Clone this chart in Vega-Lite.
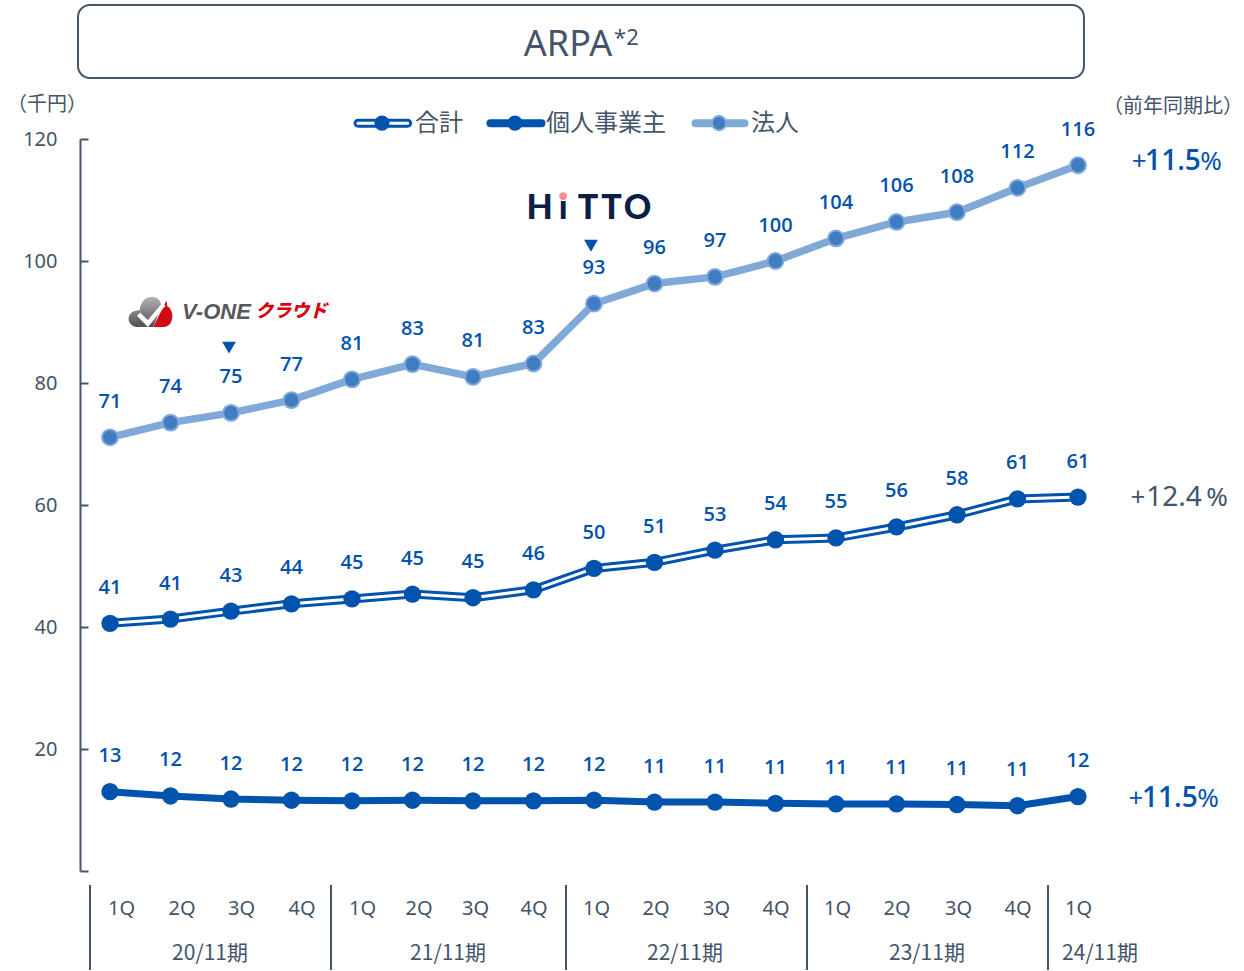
{
  "$schema": "https://vega.github.io/schema/vega-lite/v6.json",
  "width": 1020,
  "height": 732,
  "autosize": "none",
  "padding": {"left": 80, "top": 139, "right": 144, "bottom": 100},
  "background": "white",
  "config": {
    "view": {"stroke": null},
    "font": "Noto Sans CJK JP",
    "text": {"font": "Noto Sans CJK JP"}
  },
  "datasets": {
    "arpa": [
      {"t":0,"quarter":"1Q","fy":"20/11期","segment":"合計","v":40.6},
      {"t":1,"quarter":"2Q","fy":"20/11期","segment":"合計","v":41.3},
      {"t":2,"quarter":"3Q","fy":"20/11期","segment":"合計","v":42.6},
      {"t":3,"quarter":"4Q","fy":"20/11期","segment":"合計","v":43.8},
      {"t":4,"quarter":"1Q","fy":"21/11期","segment":"合計","v":44.6},
      {"t":5,"quarter":"2Q","fy":"21/11期","segment":"合計","v":45.4},
      {"t":6,"quarter":"3Q","fy":"21/11期","segment":"合計","v":44.8},
      {"t":7,"quarter":"4Q","fy":"21/11期","segment":"合計","v":46.1},
      {"t":8,"quarter":"1Q","fy":"22/11期","segment":"合計","v":49.6},
      {"t":9,"quarter":"2Q","fy":"22/11期","segment":"合計","v":50.6},
      {"t":10,"quarter":"3Q","fy":"22/11期","segment":"合計","v":52.6},
      {"t":11,"quarter":"4Q","fy":"22/11期","segment":"合計","v":54.3},
      {"t":12,"quarter":"1Q","fy":"23/11期","segment":"合計","v":54.6},
      {"t":13,"quarter":"2Q","fy":"23/11期","segment":"合計","v":56.4},
      {"t":14,"quarter":"3Q","fy":"23/11期","segment":"合計","v":58.4},
      {"t":15,"quarter":"4Q","fy":"23/11期","segment":"合計","v":61.0},
      {"t":16,"quarter":"1Q","fy":"24/11期","segment":"合計","v":61.3},
      {"t":0,"quarter":"1Q","fy":"20/11期","segment":"個人事業主","v":13.0},
      {"t":1,"quarter":"2Q","fy":"20/11期","segment":"個人事業主","v":12.3},
      {"t":2,"quarter":"3Q","fy":"20/11期","segment":"個人事業主","v":11.8},
      {"t":3,"quarter":"4Q","fy":"20/11期","segment":"個人事業主","v":11.6},
      {"t":4,"quarter":"1Q","fy":"21/11期","segment":"個人事業主","v":11.5},
      {"t":5,"quarter":"2Q","fy":"21/11期","segment":"個人事業主","v":11.6},
      {"t":6,"quarter":"3Q","fy":"21/11期","segment":"個人事業主","v":11.5},
      {"t":7,"quarter":"4Q","fy":"21/11期","segment":"個人事業主","v":11.5},
      {"t":8,"quarter":"1Q","fy":"22/11期","segment":"個人事業主","v":11.6},
      {"t":9,"quarter":"2Q","fy":"22/11期","segment":"個人事業主","v":11.3},
      {"t":10,"quarter":"3Q","fy":"22/11期","segment":"個人事業主","v":11.3},
      {"t":11,"quarter":"4Q","fy":"22/11期","segment":"個人事業主","v":11.1},
      {"t":12,"quarter":"1Q","fy":"23/11期","segment":"個人事業主","v":11.0},
      {"t":13,"quarter":"2Q","fy":"23/11期","segment":"個人事業主","v":11.0},
      {"t":14,"quarter":"3Q","fy":"23/11期","segment":"個人事業主","v":10.9},
      {"t":15,"quarter":"4Q","fy":"23/11期","segment":"個人事業主","v":10.7},
      {"t":16,"quarter":"1Q","fy":"24/11期","segment":"個人事業主","v":12.2},
      {"t":0,"quarter":"1Q","fy":"20/11期","segment":"法人","v":71.1},
      {"t":1,"quarter":"2Q","fy":"20/11期","segment":"法人","v":73.5},
      {"t":2,"quarter":"3Q","fy":"20/11期","segment":"法人","v":75.1},
      {"t":3,"quarter":"4Q","fy":"20/11期","segment":"法人","v":77.2},
      {"t":4,"quarter":"1Q","fy":"21/11期","segment":"法人","v":80.6},
      {"t":5,"quarter":"2Q","fy":"21/11期","segment":"法人","v":83.1},
      {"t":6,"quarter":"3Q","fy":"21/11期","segment":"法人","v":81.0},
      {"t":7,"quarter":"4Q","fy":"21/11期","segment":"法人","v":83.2},
      {"t":8,"quarter":"1Q","fy":"22/11期","segment":"法人","v":93.0},
      {"t":9,"quarter":"2Q","fy":"22/11期","segment":"法人","v":96.3},
      {"t":10,"quarter":"3Q","fy":"22/11期","segment":"法人","v":97.4},
      {"t":11,"quarter":"4Q","fy":"22/11期","segment":"法人","v":100.0},
      {"t":12,"quarter":"1Q","fy":"23/11期","segment":"法人","v":103.7},
      {"t":13,"quarter":"2Q","fy":"23/11期","segment":"法人","v":106.4},
      {"t":14,"quarter":"3Q","fy":"23/11期","segment":"法人","v":108.0},
      {"t":15,"quarter":"4Q","fy":"23/11期","segment":"法人","v":112.0},
      {"t":16,"quarter":"1Q","fy":"24/11期","segment":"法人","v":115.7}
    ],
    "legendKeys": [
      {"segment":"合計","t":4.1,"t2":4.92,"v":122.6},
      {"segment":"個人事業主","t":6.289,"t2":7.132,"v":122.6},
      {"segment":"法人","t":9.678,"t2":10.487,"v":122.6}
    ],
    "legendDots": [
      {"segment":"合計","t":4.496,"v":122.6},
      {"segment":"個人事業主","t":6.694,"v":122.6},
      {"segment":"法人","t":10.066,"v":122.6}
    ],
    "legendNames": [
      {"segment":"合計","t":5.04,"v":122.4},
      {"segment":"個人事業主","t":7.205,"v":122.4},
      {"segment":"法人","t":10.595,"v":122.4}
    ],
    "fiscalYears": [
      {"fy":"20/11期","t":1.653,"v":-13.6},
      {"fy":"21/11期","t":5.587,"v":-13.6},
      {"fy":"22/11期","t":9.504,"v":-13.6},
      {"fy":"23/11期","t":13.504,"v":-13.6},
      {"fy":"24/11期","t":16.364,"v":-13.6}
    ],
    "fiscalDividers": [
      {"t":-0.331,"v":-2.295,"v2":-16.23},
      {"t":3.653,"v":-2.295,"v2":-16.23},
      {"t":7.537,"v":-2.295,"v2":-16.23},
      {"t":11.521,"v":-2.295,"v2":-16.23},
      {"t":15.504,"v":-2.295,"v2":-16.23}
    ],
    "growth": [
      {"segment":"法人","part":"plus","text":"+","t":17.01,"v":116.2},
      {"segment":"法人","part":"number","text":"11.5","t":17.57,"v":116.2},
      {"segment":"法人","part":"percent","text":"%","t":18.2,"v":116.2},
      {"segment":"合計","part":"plus","text":"+","t":16.99,"v":61.1},
      {"segment":"合計","part":"number","text":"12.4","t":17.587,"v":61.1},
      {"segment":"合計","part":"percent","text":"%","t":18.3,"v":61.1},
      {"segment":"個人事業主","part":"plus","text":"+","t":16.96,"v":11.8},
      {"segment":"個人事業主","part":"number","text":"11.5","t":17.52,"v":11.8},
      {"segment":"個人事業主","part":"percent","text":"%","t":18.15,"v":11.8}
    ],
    "launches": [
      {"product":"V-ONEクラウド","t":1.967,"v":85.8},
      {"product":"HiTTO","t":7.95,"v":102.5}
    ],
    "hittoLetters": [
      {"letter":"H","t":7.1,"v":108.6},
      {"letter":"ı","t":7.49,"v":108.6},
      {"letter":"T","t":7.9,"v":108.6},
      {"letter":"T","t":8.29,"v":108.6},
      {"letter":"O","t":8.72,"v":108.6}
    ]
  },
  "encoding": {
    "x": {
      "field": "t",
      "type": "quantitative",
      "title": null,
      "scale": {"domain": [-0.496, 16.364], "nice": false, "zero": false},
      "axis": {
        "values": [0,1,2,3,4,5,6,7,8,9,10,11,12,13,14,15,16],
        "domain": false,
        "ticks": false,
        "grid": false,
        "labelFontSize": 20,
        "labelColor": "#44546a",
        "labelPadding": 27,
        "labelFont": "Noto Sans",
        "labelExpr": "['1Q','2Q','3Q','4Q','1Q','2Q','3Q','4Q','1Q','2Q','3Q','4Q','1Q','2Q','3Q','4Q','1Q'][datum.value]",
        "labelOverlap": false,
        "labelOffset": {"expr": "[11,11,10,10,10,6,2,0,2,1,1,0,1,0,1,0,0][datum.value]"}
      }
    },
    "y": {
      "field": "v",
      "type": "quantitative",
      "title": null,
      "scale": {"domain": [0, 120], "nice": false, "zero": false},
      "axis": {
        "values": [0,20,40,60,80,100,120],
        "grid": false,
        "domainColor": "#44546a",
        "domainWidth": 2,
        "tickColor": "#44546a",
        "tickWidth": 2,
        "tickSize": -8,
        "labelFontSize": 20,
        "labelColor": "#44546a",
        "labelPadding": 31,
        "labelFont": "Noto Sans",
        "labelExpr": "datum.value === 0 ? '' : datum.label"
      }
    }
  },
  "layer": [
    {
      "data": {"values": [{"t":-0.529,"t2":16.099,"v":141.97,"v2":130}]},
      "mark": {"type":"rect","fill":"white","stroke":"#44546a","strokeWidth":2,"cornerRadius":12,"clip":false},
      "encoding": {"x2":{"field":"t2"},"y2":{"field":"v2"}}
    },
    {
      "data": {"values": [{"text":"ARPA","t":7.57,"v":135.4}]},
      "mark": {"type":"text","fontSize":36,"font":"Noto Sans","color":"#44546a","align":"center","baseline":"middle"},
      "encoding": {"text":{"field":"text"}}
    },
    {
      "data": {"values": [{"text":"*2","t":8.331,"v":136.6}]},
      "mark": {"type":"text","fontSize":22,"font":"Noto Sans","color":"#44546a","align":"left","baseline":"middle"},
      "encoding": {"text":{"field":"text"}}
    },
    {
      "data": {"values": [{"text":"（千円）","t":-1.041,"v":125.6},{"text":"（前年同期比）","t":17.57,"v":125.3}]},
      "mark": {"type":"text","fontSize":20,"color":"#44546a","align":"center","baseline":"middle"},
      "encoding": {"text":{"field":"text"}}
    },
    {
      "data": {"name":"arpa"},
      "transform": [{"filter":"datum.segment === '法人'"}],
      "mark": {"type":"line","color":"#80a9d8","strokeWidth":7.5,"strokeCap":"round","strokeJoin":"round"}
    },
    {
      "data": {"name":"arpa"},
      "transform": [{"filter":"datum.segment === '法人'"}],
      "mark": {"type":"point","filled":true,"fill":"#3f7cc0","stroke":"#7fa8dc","strokeWidth":2,"size":250,"opacity":1}
    },
    {
      "data": {"name":"arpa"},
      "transform": [{"filter":"datum.segment === '合計'"}],
      "mark": {"type":"line","color":"#0153ad","strokeWidth":9,"strokeJoin":"round"}
    },
    {
      "data": {"name":"arpa"},
      "transform": [{"filter":"datum.segment === '合計'"}],
      "mark": {"type":"line","color":"white","strokeWidth":3,"strokeJoin":"round"}
    },
    {
      "data": {"name":"arpa"},
      "transform": [{"filter":"datum.segment === '合計'"}],
      "mark": {"type":"point","filled":true,"color":"#0153ad","size":300,"opacity":1}
    },
    {
      "data": {"name":"arpa"},
      "transform": [{"filter":"datum.segment === '個人事業主'"}],
      "mark": {"type":"line","color":"#0153ad","strokeWidth":7,"strokeJoin":"round"}
    },
    {
      "data": {"name":"arpa"},
      "transform": [{"filter":"datum.segment === '個人事業主'"}],
      "mark": {"type":"point","filled":true,"color":"#0153ad","size":300,"opacity":1}
    },
    {
      "data": {"name":"arpa"},
      "mark": {"type":"text","font":"Open Sans","fontSize":20,"fontWeight":600,"color":"#0153ad","baseline":"middle","dy":-35.5},
      "encoding": {"text":{"field":"v","type":"quantitative","format":".0f"}}
    },
    {
      "data": {"name":"legendKeys"},
      "transform": [{"filter":"datum.segment === '合計'"}],
      "mark": {"type":"rule","color":"#0153ad","strokeWidth":9,"strokeCap":"round"},
      "encoding": {"x2":{"field":"t2"}}
    },
    {
      "data": {"name":"legendKeys"},
      "transform": [{"filter":"datum.segment === '合計'"}],
      "mark": {"type":"rule","color":"white","strokeWidth":3,"strokeCap":"round"},
      "encoding": {"x2":{"field":"t2"}}
    },
    {
      "data": {"name":"legendKeys"},
      "transform": [{"filter":"datum.segment === '個人事業主'"}],
      "mark": {"type":"rule","color":"#0153ad","strokeWidth":8,"strokeCap":"round"},
      "encoding": {"x2":{"field":"t2"}}
    },
    {
      "data": {"name":"legendKeys"},
      "transform": [{"filter":"datum.segment === '法人'"}],
      "mark": {"type":"rule","color":"#80a9d8","strokeWidth":8,"strokeCap":"round"},
      "encoding": {"x2":{"field":"t2"}}
    },
    {
      "data": {"name":"legendDots"},
      "transform": [{"filter":"datum.segment !== '法人'"}],
      "mark": {"type":"point","filled":true,"color":"#0153ad","size":230,"opacity":1}
    },
    {
      "data": {"name":"legendDots"},
      "transform": [{"filter":"datum.segment === '法人'"}],
      "mark": {"type":"point","filled":true,"fill":"#3f7cc0","stroke":"#7fa8dc","strokeWidth":2,"size":200,"opacity":1}
    },
    {
      "data": {"name":"legendNames"},
      "mark": {"type":"text","fontSize":24,"color":"#44546a","align":"left","baseline":"middle"},
      "encoding": {"text":{"field":"segment"}}
    },
    {
      "data": {"name":"fiscalDividers"},
      "mark": {"type":"rule","color":"#44546a","strokeWidth":2},
      "encoding": {"y2":{"field":"v2"}}
    },
    {
      "data": {"name":"fiscalYears"},
      "mark": {"type":"text","fontSize":21,"color":"#44546a","align":"center","baseline":"middle"},
      "encoding": {"text":{"field":"fy"}}
    },
    {
      "data": {"name":"growth"},
      "transform": [{"filter":"datum.part === 'plus'"}],
      "mark": {"type":"text","font":"Noto Sans","fontSize":26,"align":"center","baseline":"middle"},
      "encoding": {"text":{"field":"text"},"color":{"condition":{"test":"datum.segment === '合計'","value":"#44546a"},"value":"#0153ad"}}
    },
    {
      "data": {"name":"growth"},
      "transform": [{"filter":"datum.part === 'number' && datum.segment !== '合計'"}],
      "mark": {"type":"text","font":"Open Sans","fontSize":28,"fontWeight":600,"color":"#0153ad","align":"center","baseline":"middle"},
      "encoding": {"text":{"field":"text"}}
    },
    {
      "data": {"name":"growth"},
      "transform": [{"filter":"datum.part === 'number' && datum.segment === '合計'"}],
      "mark": {"type":"text","font":"Noto Sans","fontSize":28,"color":"#44546a","align":"center","baseline":"middle"},
      "encoding": {"text":{"field":"text"}}
    },
    {
      "data": {"name":"growth"},
      "transform": [{"filter":"datum.part === 'percent'"}],
      "mark": {"type":"text","font":"Noto Sans","fontSize":26,"align":"center","baseline":"middle"},
      "encoding": {"text":{"field":"text"},"color":{"condition":{"test":"datum.segment === '合計'","value":"#44546a"},"value":"#0153ad"}}
    },
    {
      "data": {"name":"launches"},
      "mark": {"type":"point","shape":"triangle-down","filled":true,"color":"#0153ad","size":190,"opacity":1}
    },
    {
      "data": {"values": [{"t":0.678,"v":91.64}]},
      "mark": {"type":"point","filled":true,"opacity":1,"size":2025,"shape":"M-0.55 0.67 C-1.15 0.67 -1.15 -0.1 -0.5 -0.08 C-0.45 -0.85 0.5 -0.85 0.45 -0.2 L0.1 0.67 Z","color":{"gradient":"linear","x1":0,"y1":0,"x2":0,"y2":1,"stops":[{"offset":0,"color":"#b5b5b5"},{"offset":1,"color":"#4f4f4f"}]}}
    },
    {
      "data": {"values": [{"t":0.678,"v":91.64}]},
      "mark": {"type":"point","filled":true,"opacity":1,"size":2025,"shape":"M0.1 0.67 L0.68 -0.5 C0.72 -0.4 0.72 -0.3 0.72 -0.25 C1.05 -0.1 1.05 0.67 0.55 0.67 Z","color":"#cf0a14"}
    },
    {
      "data": {"values": [{"t":0.678,"v":91.64}]},
      "mark": {"type":"point","filled":true,"opacity":1,"size":2025,"shape":"M-0.62 0.17 L-0.48 0.03 L-0.14 0.36 L0.5 -0.4 L0.64 -0.28 L-0.14 0.67 Z","color":"white"}
    },
    {
      "data": {"values": [{"text":"V-ONE","t":1.19,"v":91.64}]},
      "mark": {"type":"text","font":"Liberation Sans","fontSize":22,"fontWeight":"bold","fontStyle":"italic","color":"#595959","align":"left","baseline":"middle"},
      "encoding": {"text":{"field":"text"}}
    },
    {
      "data": {"values": [{"text":"クラウド","t":2.4,"v":91.64}]},
      "mark": {"type":"text","fontSize":18,"fontWeight":900,"fontStyle":"italic","color":"#d8000f","align":"left","baseline":"middle"},
      "encoding": {"text":{"field":"text"}}
    },
    {
      "data": {"name":"hittoLetters"},
      "mark": {"type":"text","font":"Lato","fontSize":34,"fontWeight":900,"color":"#0b1f47","align":"center","baseline":"middle"},
      "encoding": {"text":{"field":"letter"}}
    },
    {
      "data": {"values": [{"t":7.49,"v":110.65}]},
      "mark": {"type":"point","filled":true,"color":"#f78d99","size":60,"opacity":1}
    }
  ]
}
